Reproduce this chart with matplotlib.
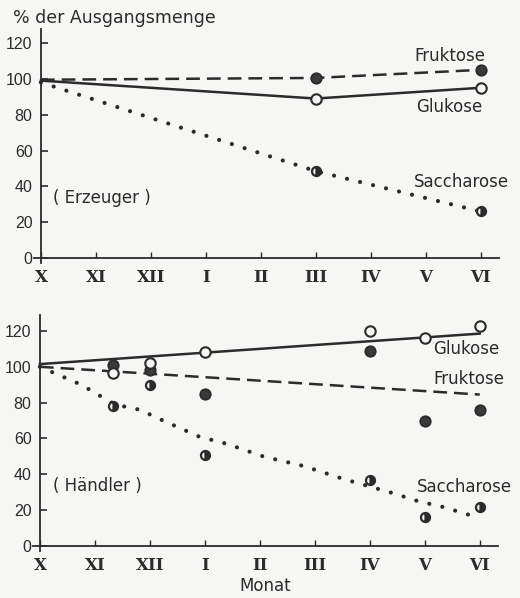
import numpy as np
import matplotlib.pyplot as plt

# month positions: 0 = X (Oktober) ... 8 = VI (Juni)
month_labels = ["X", "XI", "XII", "I", "II", "III", "IV", "V", "VI"]

# Erzeuger (top panel)
top_months = [0, 5, 8]
top_fru = [99.5, 100.5, 105]
top_glu = [99, 89, 95]
top_sac = [98, 48.5, 26]
top_mark_months = [5, 8]
top_fru_pts = [100.5, 105]
top_glu_pts = [89, 95]
top_sac_pts = [48.5, 26]

# Haendler (bottom panel)
bot_line_months = [0, 8]
bot_glu_line = [101.5, 118.5]
bot_fru_line = [100, 84.5]
bot_sac_months = [0, 0.75, 1.36, 1.82, 2.24, 2.9, 3.4, 4.06, 4.8, 5.5, 6.42, 6.88, 7.33, 8]
bot_sac_line = [100, 90, 79, 76, 70, 61, 57, 50, 44.6, 37.6, 29.5, 25, 21.8, 15.6]
bot_mark_months = [1.33, 2, 3, 6, 7, 8]
bot_glu_pts = [96.7, 102, 108.4, 120, 116, 123]
bot_fru_pts = [101, 98, 85, 109, 70, 76]
bot_sac_pts = [78, 90, 51, 37, 16, 22]

ink = "#2b2b2b"
bg = "#f6f6f4"
plt.rcParams["font.family"] = ["DejaVu Sans"]

fig = plt.figure(figsize=(5.2, 5.98), dpi=100, facecolor=bg)
ax1 = fig.add_axes([0.066, 0.5595, 0.893, 0.3926])
ax2 = fig.add_axes([0.064, 0.0779, 0.8935, 0.3957])

dash = (0, (5.5, 2.8))
dots = (0, (0.01, 3.2))


def setup(ax, ytop):
    ax.set_facecolor(bg)
    ax.set_xlim(-0.12, 8.33)
    ax.set_ylim(-3, ytop)
    for s in ["top", "right"]:
        ax.spines[s].set_visible(False)
    ax.spines["left"].set_position(("data", 0))
    ax.spines["bottom"].set_position(("data", 0))
    for s in ["left", "bottom"]:
        ax.spines[s].set_color(ink)
        ax.spines[s].set_linewidth(1.3)
    ax.set_yticks(range(0, 121, 20))
    ax.set_yticklabels([str(v) for v in range(0, 121, 20)],
                       family=["Liberation Sans", "DejaVu Sans"], fontsize=11.5)
    ax.set_xticks(range(9))
    ax.set_xticklabels(month_labels, family=["DejaVu Serif"], fontsize=12,
                       fontweight="bold")
    ax.tick_params(axis="y", direction="in", length=5, width=1.2, colors=ink, pad=6)
    ax.tick_params(axis="x", direction="in", length=4, width=1.0, colors=ink, pad=8)


def curves(ax, mx, fru, glu, sac, fx, fp, gx, gp, sx, sp):
    ax.plot(mx[0], fru, color=ink, lw=1.8, linestyle=dash, zorder=2)
    ax.plot(mx[1], glu, color=ink, lw=1.8, zorder=2)
    ax.plot(mx[2], sac, color=ink, lw=3.0, linestyle=dots, dash_capstyle="round", zorder=2)
    ax.plot(fx, fp, "o", ms=7.5, mfc="#3a3a3a", mec=ink, mew=1.3, ls="none", zorder=3)
    ax.plot(gx, gp, "o", ms=7.5, mfc=bg, mec=ink, mew=1.5, ls="none", zorder=3)
    ax.plot(sx, sp, "o", ms=6.5, fillstyle="right", mfc=ink, mfcalt=bg, mec=ink, mew=1.6,
            ls="none", zorder=3)


setup(ax1, 128)
curves(ax1, [top_months, top_months, top_months], top_fru, top_glu, top_sac,
       top_mark_months, top_fru_pts, top_mark_months, top_glu_pts, top_mark_months, top_sac_pts)
ax1.text(-0.51, 134, "% der Ausgangsmenge", fontsize=12.5, color=ink, va="center", clip_on=False)
ax1.text(6.79, 112.7, "Fruktose", fontsize=12, color=ink, va="center")
ax1.text(6.82, 84.3, "Glukose", fontsize=12, color=ink, va="center")
ax1.text(6.79, 42.4, "Saccharose", fontsize=12, color=ink, va="center")
ax1.text(0.22, 33.5, "( Erzeuger )", fontsize=12, color=ink, va="center")

setup(ax2, 129)
curves(ax2, [bot_line_months, bot_line_months, bot_sac_months], bot_fru_line, bot_glu_line,
       bot_sac_line, bot_mark_months, bot_fru_pts, bot_mark_months, bot_glu_pts,
       bot_mark_months, bot_sac_pts)
ax2.text(7.16, 110, "Glukose", fontsize=12, color=ink, va="center")
ax2.text(7.16, 93.2, "Fruktose", fontsize=12, color=ink, va="center")
ax2.text(6.85, 33, "Saccharose", fontsize=12, color=ink, va="center")
ax2.text(0.24, 33.5, "( Händler )", fontsize=12, color=ink, va="center")
ax2.set_xlabel("Monat", fontsize=12, color=ink, labelpad=2)

fig.savefig("out.png", dpi=100, facecolor=bg)
